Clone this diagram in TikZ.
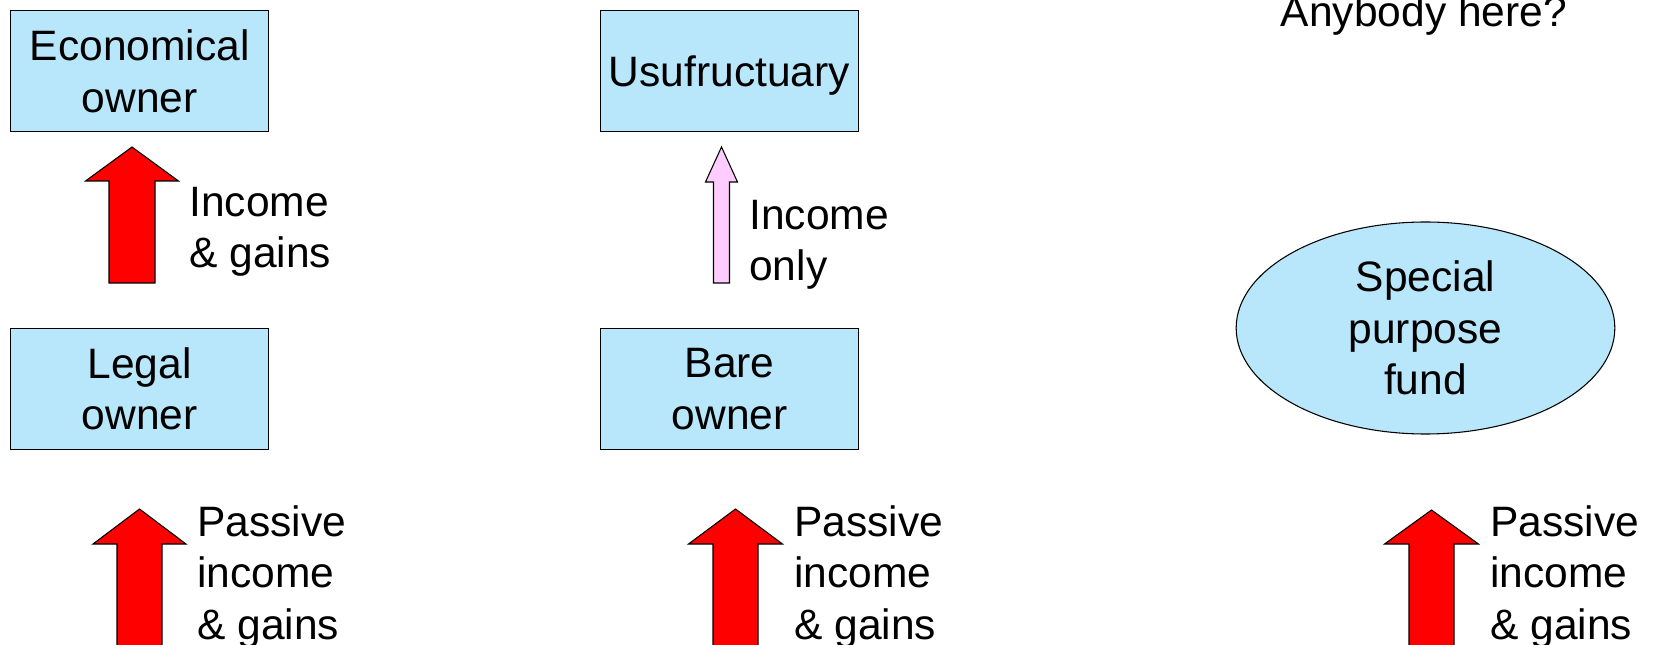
\documentclass[tikz,border=0pt]{standalone}
\usepackage{fontspec}
\setmainfont{Liberation Sans}
\usetikzlibrary{shapes.geometric}
\definecolor{boxblue}{RGB}{184,230,250}
\definecolor{arrowred}{RGB}{255,0,0}
\definecolor{arrowpink}{RGB}{255,204,255}
\newcommand\blockarrow[7]{%
  \draw[#1] ({#2},{#3}) -- ({#2+#6},{#4}) -- ({#2+#7},{#4}) -- ({#2+#7},{#5})
    -- ({#2-#7},{#5}) -- ({#2-#7},{#4}) -- ({#2-#6},{#4}) -- cycle;}
\tikzset{
  every node/.style={font=\fontsize{31.9pt}{38.6pt}\selectfont},
  ownerbox/.style={draw=black, line width=0.8pt, fill=boxblue, rectangle,
    minimum width=193.5pt, minimum height=91pt, inner sep=0pt, align=center},
  fundshape/.style={draw=black, line width=0.8pt, fill=boxblue, ellipse,
    minimum width=284pt, minimum height=159pt, inner sep=0pt, align=center},
  lbl/.style={anchor=north west, inner sep=0pt, align=left},
  redarrow/.style={draw=black, line width=0.8pt, fill=arrowred, line join=miter},
  pinkarrow/.style={draw=black, line width=0.8pt, fill=arrowpink, line join=miter},
}
\begin{document}
\begin{tikzpicture}[x=0.75pt,y=-0.75pt]
\useasboundingbox (0,0) rectangle (1654,645);
\clip (0,0) rectangle (1654,645);
% boxes
\node[ownerbox] (econ) at (139.7,71.3) {Economical\\owner};
\node[ownerbox, text depth=0pt] (usu) at (729.4,71.3) {Usufructuary};
\node[ownerbox] (legal) at (139.7,389) {Legal\\owner};
\node[ownerbox] (bare) at (729.6,389) {Bare\\owner};
\node[fundshape] (fund) at (1425.5,328) {Special\\purpose\\fund};
\node[anchor=base, inner sep=0pt] (anyb) at (1424,27) {Anybody here?};
% block arrows
\blockarrow{redarrow}{132}{147}{181}{283}{46.5}{23}
\blockarrow{pinkarrow}{721.5}{147}{182}{283}{16}{8}
\blockarrow{redarrow}{139.5}{509}{544}{680}{46.5}{22.5}
\blockarrow{redarrow}{735.5}{509}{544}{680}{47}{22.5}
\blockarrow{redarrow}{1431.5}{510}{544}{680}{47}{22.5}
% labels
\node[lbl] (l1) at (189,187) {Income\\\& gains};
\node[lbl] (l2) at (749,200) {Income\\only};
\node[lbl] (l3) at (197,505) {Passive\\income\\\& gains};
\node[lbl] (l4) at (794,505) {Passive\\income\\\& gains};
\node[lbl] (l5) at (1490,505) {Passive\\income\\\& gains};
\end{tikzpicture}
\end{document}
